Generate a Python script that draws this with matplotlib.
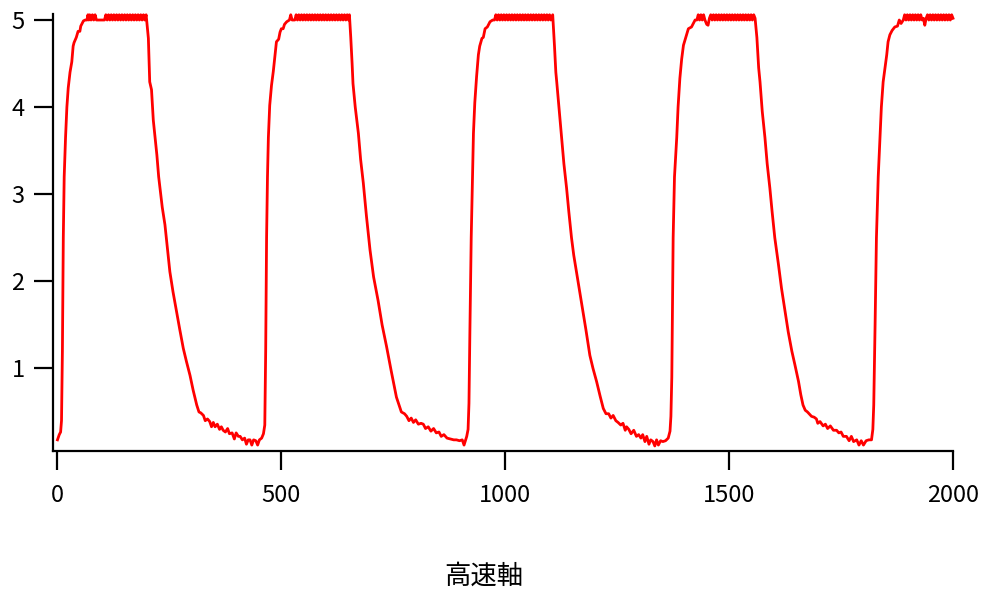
import matplotlib
matplotlib.use('Agg')
import matplotlib.pyplot as plt

plt.rcParams['font.family'] = ['Noto Sans CJK JP', 'DejaVu Sans']

# Waveform, one list of (x, y) points per cycle
cycle1 = [
    (0, 0.18), (4, 0.24), (7, 0.27), (9, 0.40), (11, 1.2), (13, 2.5), (15, 3.2),
    (18, 3.65), (21, 4.0), (24, 4.22), (28, 4.40), (32, 4.52), (35, 4.70),
    (37, 4.74), (42, 4.80), (46, 4.87), (50, 4.87), (52, 4.93), (58, 4.99),
    (62, 5.0), (66, 5.0), (68, 5.06), (70, 5.0), (72, 5.06), (75, 5.0), (78, 5.06),
    (81, 5.0), (84, 5.06), (87, 5.0), (90, 5.0), (95, 5.0), (100, 5.0), (105, 5.0),
    (108, 5.06), (111, 5.0), (114, 5.06), (117, 5.0), (120, 5.06), (123, 5.0),
    (126, 5.06), (129, 5.0), (132, 5.06), (135, 5.0), (138, 5.06), (141, 5.0),
    (144, 5.06), (147, 5.0), (150, 5.06), (153, 5.0), (156, 5.06), (159, 5.0),
    (162, 5.06), (165, 5.0), (168, 5.06), (171, 5.0), (174, 5.06), (177, 5.0),
    (180, 5.06), (183, 5.0), (186, 5.06), (189, 5.0), (192, 5.06), (195, 5.0),
    (198, 5.06),
    (201, 4.9), (203, 4.79), (206, 4.29), (210, 4.2), (214, 3.85), (218, 3.65),
    (222, 3.45), (226, 3.2), (229, 3.07), (234, 2.85), (240, 2.65), (245, 2.40),
    (251, 2.11), (258, 1.88), (266, 1.65), (273, 1.45), (281, 1.23), (288, 1.08),
    (296, 0.92), (303, 0.75), (311, 0.58), (316, 0.50), (320, 0.49), (326, 0.46),
    (330, 0.40), (335, 0.42), (340, 0.39), (344, 0.33), (348, 0.38), (352, 0.33),
    (357, 0.36), (362, 0.30), (366, 0.33), (370, 0.29), (375, 0.27), (380, 0.31),
    (384, 0.25), (390, 0.26), (395, 0.19), (399, 0.26), (404, 0.22), (408, 0.22),
    (413, 0.18), (418, 0.20), (422, 0.13), (426, 0.18), (430, 0.18), (434, 0.12),
    (438, 0.18), (443, 0.17), (447, 0.12), (451, 0.18), (456, 0.20), (460, 0.25),
    (463, 0.35),
]

cycle2 = [
    (465, 1.2), (467, 2.5), (469, 3.2), (471, 3.65), (474, 4.02), (478, 4.25),
    (482, 4.41), (486, 4.6), (489, 4.75), (494, 4.78), (497, 4.86), (500, 4.90),
    (504, 4.90), (507, 4.95), (512, 4.98), (518, 5.0), (521, 5.06), (524, 5.0),
    (530, 5.0), (533, 5.06), (536, 5.0), (539, 5.06), (542, 5.0), (545, 5.06),
    (548, 5.0), (551, 5.06), (554, 5.0), (557, 5.06), (560, 5.0), (563, 5.06),
    (566, 5.0), (569, 5.06), (572, 5.0), (575, 5.06), (578, 5.0), (581, 5.06),
    (584, 5.0), (587, 5.06), (590, 5.0), (593, 5.06), (596, 5.0), (599, 5.06),
    (602, 5.0), (605, 5.06), (608, 5.0), (611, 5.06), (614, 5.0), (617, 5.06),
    (620, 5.0), (623, 5.06), (626, 5.0), (629, 5.06), (632, 5.0), (635, 5.06),
    (638, 5.0), (641, 5.06), (644, 5.0), (647, 5.06), (650, 5.0), (652, 5.06),
    (655, 4.8), (658, 4.5), (660, 4.27), (665, 4.0), (672, 3.70), (677, 3.4),
    (683, 3.13), (690, 2.75), (698, 2.36), (706, 2.05), (716, 1.78), (725, 1.5),
    (735, 1.25), (745, 0.98), (757, 0.67), (768, 0.50), (775, 0.48), (780, 0.45),
    (785, 0.40), (790, 0.43), (795, 0.38), (800, 0.41), (806, 0.36), (812, 0.37),
    (817, 0.36), (822, 0.31), (828, 0.33), (834, 0.28), (840, 0.31), (846, 0.26),
    (852, 0.27), (857, 0.22), (863, 0.24), (870, 0.20), (878, 0.19), (885, 0.18),
    (891, 0.18), (898, 0.17), (904, 0.18), (908, 0.12), (911, 0.17), (914, 0.22),
    (917, 0.30),
]

cycle3 = [
    (919, 0.6), (921, 1.4), (924, 2.5), (927, 3.2), (929, 3.70), (932, 4.05),
    (936, 4.35), (940, 4.6), (943, 4.70), (948, 4.79), (951, 4.80), (955, 4.90),
    (960, 4.92), (966, 4.98), (972, 5.0), (976, 5.0), (979, 5.06), (982, 5.0),
    (985, 5.06), (988, 5.0), (991, 5.06), (994, 5.0), (997, 5.06), (1000, 5.0),
    (1003, 5.06), (1006, 5.0), (1009, 5.06), (1012, 5.0), (1015, 5.06), (1018, 5.0),
    (1021, 5.06), (1024, 5.0), (1027, 5.06), (1030, 5.0), (1033, 5.06), (1036, 5.0),
    (1039, 5.06), (1042, 5.0), (1045, 5.06), (1048, 5.0), (1051, 5.06), (1054, 5.0),
    (1057, 5.06), (1060, 5.0), (1063, 5.06), (1066, 5.0), (1069, 5.06), (1072, 5.0),
    (1075, 5.06), (1078, 5.0), (1081, 5.06), (1084, 5.0), (1087, 5.06), (1090, 5.0),
    (1093, 5.06), (1096, 5.0), (1099, 5.06), (1102, 5.0), (1106, 5.06),
    (1110, 4.7), (1113, 4.4), (1115, 4.29), (1120, 4.0), (1126, 3.65), (1131, 3.35),
    (1137, 3.07), (1142, 2.8), (1148, 2.50), (1153, 2.3), (1159, 2.11), (1165, 1.92),
    (1171, 1.73), (1180, 1.45), (1189, 1.15), (1196, 1.0), (1204, 0.85), (1212, 0.68),
    (1219, 0.54), (1225, 0.48), (1231, 0.48), (1236, 0.43), (1241, 0.46), (1247, 0.40),
    (1252, 0.38), (1258, 0.35), (1263, 0.37), (1268, 0.29), (1271, 0.33), (1276, 0.30),
    (1281, 0.25), (1287, 0.29), (1293, 0.22), (1298, 0.24), (1303, 0.20), (1307, 0.24),
    (1312, 0.16), (1316, 0.22), (1321, 0.13), (1325, 0.18), (1330, 0.16), (1334, 0.11),
    (1338, 0.18), (1342, 0.12), (1347, 0.17), (1352, 0.16), (1358, 0.17), (1364, 0.20),
    (1368, 0.28),
]

cycle4 = [
    (1370, 0.45), (1372, 0.9), (1375, 2.5), (1378, 3.2), (1383, 3.65), (1386, 4.0),
    (1390, 4.33), (1394, 4.55), (1398, 4.71), (1402, 4.78), (1406, 4.85),
    (1409, 4.90), (1416, 4.92), (1424, 5.0), (1428, 5.0), (1431, 5.06), (1434, 5.0),
    (1437, 5.06), (1440, 5.0), (1443, 5.06), (1446, 5.0), (1450, 4.95), (1453, 4.94),
    (1456, 5.02), (1459, 5.06), (1462, 5.0), (1465, 5.06), (1468, 5.0), (1471, 5.06),
    (1474, 5.0), (1477, 5.06), (1480, 5.0), (1483, 5.06), (1486, 5.0), (1489, 5.06),
    (1492, 5.0), (1495, 5.06), (1498, 5.0), (1501, 5.06), (1504, 5.0), (1507, 5.06),
    (1510, 5.0), (1513, 5.06), (1516, 5.0), (1519, 5.06), (1522, 5.0), (1525, 5.06),
    (1528, 5.0), (1531, 5.06), (1534, 5.0), (1537, 5.06), (1540, 5.0), (1543, 5.06),
    (1546, 5.0), (1549, 5.06), (1552, 5.0), (1555, 5.06), (1558, 5.02),
    (1562, 4.8), (1566, 4.45), (1569, 4.29), (1574, 3.95), (1580, 3.65), (1585, 3.35),
    (1591, 3.07), (1596, 2.8), (1602, 2.50), (1610, 2.2), (1617, 1.92), (1625, 1.65),
    (1632, 1.42), (1640, 1.2), (1647, 1.04), (1655, 0.85), (1660, 0.70), (1665, 0.58),
    (1670, 0.52), (1675, 0.50), (1684, 0.45), (1690, 0.44), (1695, 0.42), (1698, 0.37),
    (1703, 0.39), (1710, 0.34), (1715, 0.36), (1720, 0.31), (1726, 0.34), (1733, 0.29),
    (1740, 0.29), (1745, 0.26), (1750, 0.27), (1755, 0.22), (1762, 0.22), (1768, 0.17),
    (1773, 0.22), (1778, 0.16), (1785, 0.18), (1790, 0.12), (1795, 0.17), (1800, 0.12),
    (1806, 0.17), (1812, 0.18), (1818, 0.18), (1821, 0.30),
]

cycle5 = [
    (1823, 0.58), (1826, 1.5), (1829, 2.5), (1833, 3.2), (1837, 3.65), (1840, 4.0),
    (1844, 4.29), (1848, 4.45), (1852, 4.6), (1855, 4.75), (1859, 4.83), (1864, 4.88),
    (1870, 4.92), (1876, 4.93), (1880, 5.0), (1884, 4.96), (1889, 5.0), (1892, 5.06),
    (1895, 5.0), (1898, 5.06), (1901, 5.0), (1904, 5.06), (1907, 5.0), (1910, 5.06),
    (1913, 5.0), (1916, 5.06), (1919, 5.0), (1922, 5.06), (1925, 5.0), (1928, 5.06),
    (1931, 5.0), (1934, 5.02), (1937, 4.94), (1940, 5.02), (1943, 5.06), (1946, 5.0),
    (1949, 5.06), (1952, 5.0), (1955, 5.06), (1958, 5.0), (1961, 5.06), (1964, 5.0),
    (1967, 5.06), (1970, 5.0), (1973, 5.06), (1976, 5.0), (1979, 5.06), (1982, 5.0),
    (1985, 5.06), (1988, 5.0), (1991, 5.06), (1994, 5.0), (1997, 5.06), (2000, 5.02),
]

x_ticks = [0, 500, 1000, 1500, 2000]
y_ticks = [1, 2, 3, 4, 5]
x_label = '高速軸'

points = cycle1 + cycle2 + cycle3 + cycle4 + cycle5
xs = [p[0] for p in points]
ys = [p[1] for p in points]

fig = plt.figure(figsize=(9.84, 5.92), dpi=100)
ax = fig.add_axes([53 / 984, 1 - 451 / 592, 900 / 984, 437 / 592])

ax.plot(xs, ys, color='#ff0000', linewidth=2.0, clip_on=False)

ax.set_xlim(-10, 2000)
ax.set_ylim(0.052, 5.069)
ax.set_xticks(x_ticks)
ax.set_yticks(y_ticks)

for side in ['top', 'right']:
    ax.spines[side].set_visible(False)
for side in ['left', 'bottom']:
    ax.spines[side].set_linewidth(1.6)

ax.tick_params(axis='both', direction='out', length=13.5, width=1.6, labelsize=17)
ax.tick_params(axis='x', pad=10)
ax.tick_params(axis='y', pad=7)

fig.text(484 / 984, 1 - 576 / 592, x_label, ha='center', va='center', fontsize=19)

fig.savefig('out.png', dpi=100)
